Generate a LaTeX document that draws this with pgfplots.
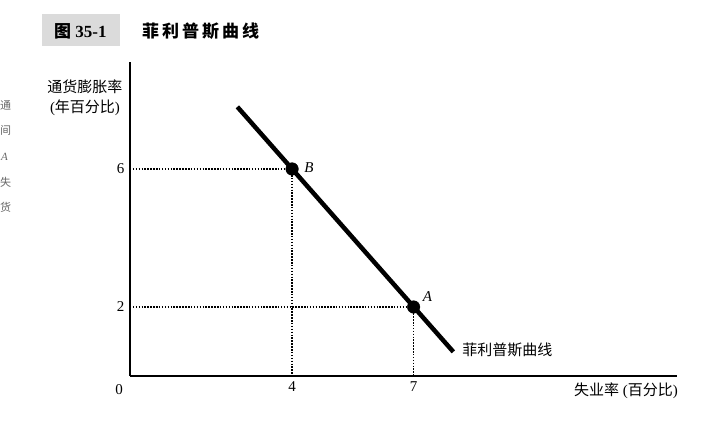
\documentclass[border=0pt]{standalone}
\usepackage{fontspec}
\setmainfont{Liberation Serif}
\newfontfamily\cjk{Noto Sans CJK SC}
\usepackage{pgfplots}
\pgfplotsset{compat=1.18}
\begin{document}
\begin{tikzpicture}[x=1pt,y=1pt]
% bounding box: pixel (px,py) -> (px-130, 376-py)
\path[use as bounding box] (-130,-47) rectangle (593,376);
% title
\fill[black!14] (42-130,376-14) rectangle (120-130,376-46);
\node[anchor=west,inner sep=0pt] at (54-130,376-31) {\fontsize{17}{17}\selectfont\bfseries{\cjk 图} 35-1};
\node[anchor=west,inner sep=0pt] at (142-130,376-31) {\fontsize{17}{17}\selectfont\bfseries\cjk 菲\hspace{3pt}利\hspace{3pt}普\hspace{3pt}斯\hspace{3pt}曲\hspace{3pt}线};
% stray margin characters
\begin{scope}[black!60]
\node[anchor=west,inner sep=0pt] at (0-130,376-105) {\fontsize{11}{11}\selectfont\cjk 通};
\node[anchor=west,inner sep=0pt] at (0-130,376-130) {\fontsize{11}{11}\selectfont\cjk 间};
\node[anchor=west,inner sep=0pt] at (1-130,376-157) {\fontsize{11}{11}\selectfont\itshape A};
\node[anchor=west,inner sep=0pt] at (0-130,376-182) {\fontsize{11}{11}\selectfont\cjk 失};
\node[anchor=west,inner sep=0pt] at (0-130,376-207) {\fontsize{11}{11}\selectfont\cjk 货};
\end{scope}
\begin{axis}[
  at={(0,0)}, anchor=origin,
  scale only axis, width=547pt, height=314pt,
  xmin=0, xmax=13.5, ymin=0, ymax=9.1,
  axis x line=bottom, axis y line=left,
  axis line style={-, line width=2pt},
  xtick={4,7}, ytick={2,6},
  major tick length=0pt,
  tick label style={font=\fontsize{15}{15}\selectfont},
  /pgf/number format/assume math mode=true,
  xticklabel style={yshift=-2pt},
  yticklabel style={xshift=-2pt},
  clip=false,
]
\addplot[black, line width=1.5pt, dash pattern=on 1.5pt off 1.4pt] coordinates {(0,6) (4,6) (4,0)};
\addplot[black, line width=1.5pt, dash pattern=on 1.5pt off 1.4pt] coordinates {(0,2) (7,2) (7,0)};
\addplot[black, line width=4.5pt] coordinates {(2.65,7.8) (7.98,0.7)};
\addplot[black, only marks, mark=*, mark size=6.3pt] coordinates {(4,6) (7,2)};
\node[anchor=west, inner sep=0pt] at (axis cs:4,6) [xshift=12pt,yshift=1pt] {\fontsize{15}{15}\selectfont\itshape B};
\node[anchor=west, inner sep=0pt] at (axis cs:7,2) [xshift=9pt,yshift=10pt] {\fontsize{15}{15}\selectfont\itshape A};
\node[anchor=west, inner sep=0pt] at (axis cs:8.2,0.75) {\fontsize{15}{15}\selectfont\cjk 菲利普斯曲线};
\node[anchor=east, inner sep=0pt] at (axis cs:0,0) [xshift=-7pt,yshift=-14pt] {\fontsize{15}{15}\selectfont 0};
\end{axis}
\node[inner sep=0pt] at (85-130,376-87) {\fontsize{15}{15}\selectfont\cjk 通货膨胀率};
\node[inner sep=0pt] at (85-130,376-108) {\fontsize{15}{15}\selectfont({\cjk 年百分比})};
\node[anchor=east,inner sep=0pt] at (678-130,376-391) {\fontsize{15}{15}\selectfont{\cjk 失业率} ({\cjk 百分比})};
\end{tikzpicture}
\end{document}
